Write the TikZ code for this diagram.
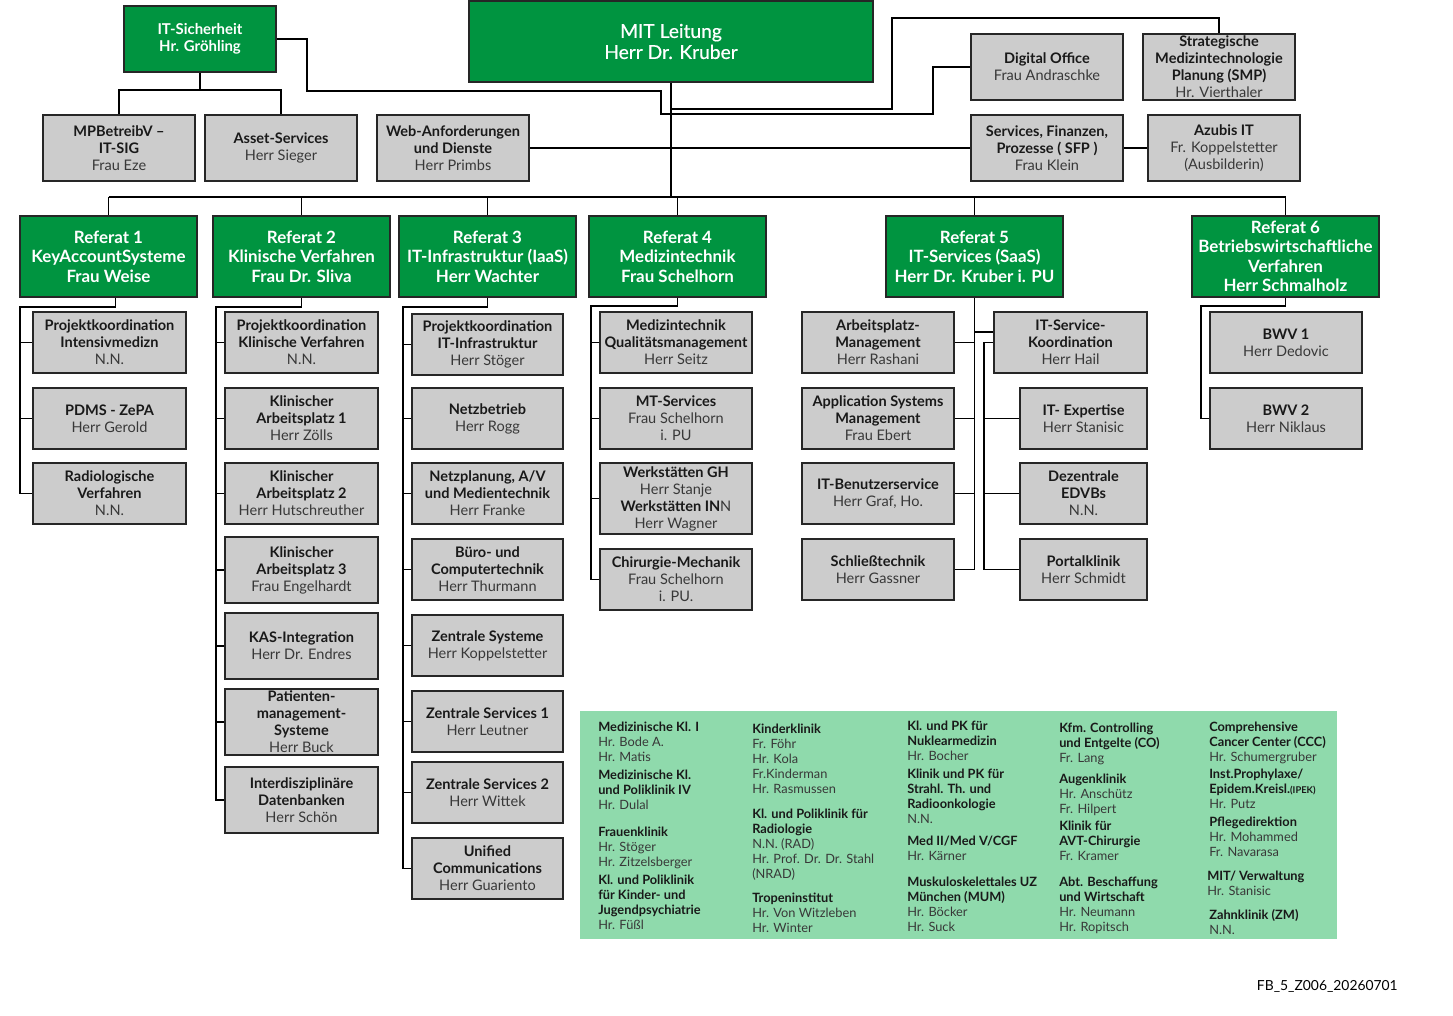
\documentclass[tikz,border=0pt]{standalone}
\usepackage{fontspec}
\setmainfont{Lato}
\newfontfamily\latomed[FakeBold=0.5]{Lato}
\definecolor{mitgreen}{RGB}{0,148,64}
\definecolor{boxgray}{RGB}{204,204,204}
\definecolor{leggreen}{RGB}{143,218,172}
\newcommand\pname[1]{{\mdseries\color{black!78}#1}}
\newcommand\lfb{\bfseries\color{black!90}}
\newcommand\lfr{\mdseries\color{black!78}}
\newcommand\boxat[7]{%
  \pgfmathsetmacro\bxw{(#5-#3)*0.75}%
  \pgfmathsetmacro\bxh{(#6-#4)*0.75}%
  \node[#2, minimum width=\bxw pt, minimum height=\bxh pt] (#1) at ({(#3+#5)/2},{(#4+#6)/2}) {#7};}
\tikzset{
  gbox/.style={draw=black!85, line width=1.3pt, fill=mitgreen, text=white, align=center, inner sep=0pt, font=\fontsize{12.7}{14.6}\selectfont\bfseries},
  sbox/.style={draw=black!85, line width=1.3pt, fill=boxgray, text=black!90, align=center, inner sep=0pt, font=\fontsize{10.9}{12.75}\selectfont\bfseries},
  mitbox/.style={gbox, font=\fontsize{14.4}{15.75}\selectfont\latomed},
  itsbox/.style={gbox, font=\fontsize{11.2}{12.75}\selectfont\bfseries},
  legbg/.style={fill=leggreen, draw=none, inner sep=0pt},
  legtext/.style={anchor=base west, inner sep=0pt, font=\fontsize{9.6}{11}\selectfont},
  conn/.style={draw=black, line width=1.2pt},
}
\begin{document}
\begin{tikzpicture}[x=0.75pt, y=-0.75pt]
\useasboundingbox (0,0) rectangle (1453,1015);
% top level
\boxat{its}{itsbox}{124}{6}{276}{72}{IT-Sicherheit\\Hr. Gröhling}
\boxat{mit}{mitbox}{469}{1}{873}{82}{MIT Leitung\\Herr Dr. Kruber}
\boxat{dig}{sbox}{971}{34}{1123}{100}{Digital Office\\\pname{Frau Andraschke}}
\boxat{smp}{sbox}{1143}{34}{1295}{100}{Strategische\\Medizintechnologie\\Planung (SMP)\\\pname{Hr. Vierthaler}}
\boxat{mpb}{sbox}{43}{115}{195}{181}{MPBetreibV --\\IT-SIG\\\pname{Frau Eze}}
\boxat{asset}{sbox}{205}{115}{357}{181}{Asset-Services\\\pname{Herr Sieger}}
\boxat{web}{sbox}{377}{115}{529}{181}{Web-Anforderungen\\und Dienste\\\pname{Herr Primbs}}
\boxat{sfp}{sbox}{971}{115}{1123}{181}{Services, Finanzen,\\Prozesse ( SFP )\\\pname{Frau Klein}}
\boxat{azubi}{sbox}{1148}{115}{1300}{181}{Azubis IT\\\pname{Fr. Koppelstetter}\\\pname{(Ausbilderin)}}
% Referate
\boxat{r1}{gbox}{20}{216}{197}{297}{Referat 1\\KeyAccountSysteme\\Frau Weise}
\boxat{r2}{gbox}{213}{216}{390}{297}{Referat 2\\Klinische Verfahren\\Frau Dr. Sliva}
\boxat{r3}{gbox}{399}{216}{576}{297}{Referat 3\\IT-Infrastruktur (IaaS)\\Herr Wachter}
\boxat{r4}{gbox}{589}{216}{766}{297}{Referat 4\\Medizintechnik\\Frau Schelhorn}
\boxat{r5}{gbox}{886}{216}{1063}{297}{Referat 5\\IT-Services (SaaS)\\Herr Dr. Kruber i. PU}
\boxat{r6}{gbox}{1192}{216}{1379}{297}{Referat 6\\Betriebswirtschaftliche\\Verfahren\\Herr Schmalholz}
% Referat 1
\boxat{r1a}{sbox}{33}{312}{186}{373}{Projektkoordination\\Intensivmedizn\\\pname{N.N.}}
\boxat{r1b}{sbox}{33}{388}{186}{449}{PDMS - ZePA\\\pname{Herr Gerold}}
\boxat{r1c}{sbox}{33}{463}{186}{524}{Radiologische\\Verfahren\\\pname{N.N.}}
% Referat 2
\boxat{r2a}{sbox}{225}{312}{378}{373}{Projektkoordination\\Klinische Verfahren\\\pname{N.N.}}
\boxat{r2b}{sbox}{225}{388}{378}{449}{Klinischer\\Arbeitsplatz 1\\\pname{Herr Zölls}}
\boxat{r2c}{sbox}{225}{463}{378}{524}{Klinischer\\Arbeitsplatz 2\\\pname{Herr Hutschreuther}}
\boxat{r2d}{sbox}{225}{537}{378}{603}{Klinischer\\Arbeitsplatz 3\\\pname{Frau Engelhardt}}
\boxat{r2e}{sbox}{225}{613}{378}{679}{KAS-Integration\\\pname{Herr Dr. Endres}}
\boxat{r2f}{sbox}{225}{689}{378}{755}{Patienten-\\management-\\Systeme\\\pname{Herr Buck}}
\boxat{r2g}{sbox}{225}{767}{378}{833}{Interdisziplinäre\\Datenbanken\\\pname{Herr Schön}}
% Referat 3
\boxat{r3a}{sbox}{412}{314}{563}{375}{Projektkoordination\\IT-Infrastruktur\\\pname{Herr Stöger}}
\boxat{r3b}{sbox}{412}{388}{563}{449}{Netzbetrieb\\\pname{Herr Rogg}}
\boxat{r3c}{sbox}{412}{463}{563}{524}{Netzplanung, A/V\\und Medientechnik\\\pname{Herr Franke}}
\boxat{r3d}{sbox}{412}{539}{563}{600}{Büro- und\\Computertechnik\\\pname{Herr Thurmann}}
\boxat{r3e}{sbox}{412}{615}{563}{676}{Zentrale Systeme\\\pname{Herr Koppelstetter}}
\boxat{r3f}{sbox}{412}{691}{563}{752}{Zentrale Services 1\\\pname{Herr Leutner}}
\boxat{r3g}{sbox}{412}{762}{563}{823}{Zentrale Services 2\\\pname{Herr Wittek}}
\boxat{r3h}{sbox}{412}{838}{563}{899}{Unified\\Communications\\\pname{Herr Guariento}}
% Referat 4
\boxat{r4a}{sbox}{600}{312}{752}{373}{Medizintechnik\\Qualitätsmanagement\\\pname{Herr Seitz}}
\boxat{r4b}{sbox}{600}{388}{752}{449}{MT-Services\\\pname{Frau Schelhorn}\\\pname{i. PU}}
\boxat{r4c}{sbox}{600}{463}{752}{534}{Werkstätten GH\\\pname{Herr Stanje}\\Werkstätten IN\pname{N}\\\pname{Herr Wagner}}
\boxat{r4d}{sbox}{600}{549}{752}{610}{Chirurgie-Mechanik\\\pname{Frau Schelhorn}\\\pname{i. PU.}}
% Referat 5
\boxat{r5a}{sbox}{802}{312}{954}{373}{Arbeitsplatz-\\Management\\\pname{Herr Rashani}}
\boxat{r5b}{sbox}{802}{388}{954}{449}{Application Systems\\Management\\\pname{Frau Ebert}}
\boxat{r5c}{sbox}{802}{463}{954}{524}{IT-Benutzerservice\\\pname{Herr Graf, Ho.}}
\boxat{r5d}{sbox}{802}{539}{954}{600}{Schließtechnik\\\pname{Herr Gassner}}
\boxat{r5e}{sbox}{994}{312}{1147}{373}{IT-Service-\\Koordination\\\pname{Herr Hail}}
\boxat{r5f}{sbox}{1020}{388}{1147}{449}{IT- Expertise\\\pname{Herr Stanisic}}
\boxat{r5g}{sbox}{1020}{463}{1147}{524}{Dezentrale\\EDVBs\\\pname{N.N.}}
\boxat{r5h}{sbox}{1020}{539}{1147}{600}{Portalklinik\\\pname{Herr Schmidt}}
% Referat 6
\boxat{r6a}{sbox}{1210}{312}{1362}{373}{BWV 1\\\pname{Herr Dedovic}}
\boxat{r6b}{sbox}{1210}{388}{1362}{449}{BWV 2\\\pname{Herr Niklaus}}
% connectors top
\coordinate (itsj) at (200,90);
\draw[conn] (its.south) -- (itsj);
\draw[conn] (mpb.north) |- (itsj) -| (asset.north);
\draw[conn] (its.east) -| (307,91) -| (661,114) -| (933,67) -- (dig.west);
\coordinate (mj) at (671,109);
\coordinate (bus) at (671,197);
\draw[conn] (mit.south) -- (bus);
\draw[conn] (mj) -| (892,18) -| (smp.north);
\draw[conn] (web.east) -- (sfp.west);
\draw[conn] (sfp.east) -- (azubi.west);
\draw[conn] (r1.north |- bus) -- (r6.north |- bus);
\foreach \r in {r1,r2,r3,r4,r5,r6} \draw[conn] (\r.north) -- (\r.north |- bus);
% Referat 1 tree
\coordinate (s1) at (20,307);
\draw[conn] ([xshift=5.25pt]r1.south) |- (s1) |- (r1c.west);
\foreach \b in {r1a,r1b} \draw[conn] (\b.west) -- (\b.west -| s1);
% Referat 2 tree
\coordinate (s2) at (216,307);
\draw[conn] (r2.south) |- (s2) |- (r2g.west);
\foreach \b in {r2a,r2b,r2c,r2d,r2e,r2f} \draw[conn] (\b.west) -- (\b.west -| s2);
% Referat 3 tree
\coordinate (s3) at (403,307);
\draw[conn] (r3.south) |- (s3) |- (r3h.west);
\foreach \b in {r3a,r3b,r3c,r3d,r3e,r3f,r3g} \draw[conn] (\b.west) -- (\b.west -| s3);
% Referat 4 tree
\coordinate (s4) at (591,306);
\draw[conn] (r4.south) |- (s4) |- (r4d.west);
\foreach \b in {r4a,r4b,r4c} \draw[conn] (\b.west) -- (\b.west -| s4);
% Referat 5 tree
\draw[conn] (r5.south) |- (r5d.east);
\foreach \b in {r5a,r5b,r5c} \draw[conn] (\b.east) -- (\b.east -| r5.south);
\draw[conn] (r5.south |- 0,332) -- (r5e.west |- 0,332);
\coordinate (s5) at (984,342);
\draw[conn] (r5e.west) -- (r5e.west -| s5) |- (r5h.west);
\foreach \b in {r5f,r5g} \draw[conn] (\b.west) -- (\b.west -| s5);
% Referat 6 tree
\coordinate (s6) at (1201,306);
\draw[conn] (r6.south) |- (s6) |- (r6b.west);
% legend
\boxat{legend}{legbg}{580}{711}{1337}{939}{}
\foreach \legx/\legy/\legs/\legt in {
598/727/b/{Medizinische Kl. I}, 598/742/r/{Hr. Bode A.}, 598/757/r/{Hr. Matis},
598/775/b/{Medizinische Kl.}, 598/790/b/{und Poliklinik IV}, 598/805/r/{Hr. Dulal},
598/832/b/{Frauenklinik}, 598/847/r/{Hr. Stöger}, 598/862/r/{Hr. Zitzelsberger},
598/880/b/{Kl. und Poliklinik}, 598/895/b/{für Kinder- und}, 598/910/b/{Jugendpsychiatrie}, 598/925/r/{Hr. Füßl},
752/729/b/{Kinderklinik}, 752/744/r/{Fr. Föhr}, 752/759/r/{Hr. Kola}, 752/774/r/{Fr.Kinderman}, 752/789/r/{Hr. Rasmussen},
752/814/b/{Kl. und Poliklinik für}, 752/829/b/{Radiologie}, 752/844/r/{N.N. (RAD)}, 752/859/r/{Hr. Prof. Dr. Dr. Stahl}, 752/874/r/{(NRAD)},
752/898/b/{Tropeninstitut}, 752/913/r/{Hr. Von Witzleben}, 752/928/r/{Hr. Winter},
907/726/b/{Kl. und PK für}, 907/741/b/{Nuklearmedizin}, 907/756/r/{Hr. Bocher},
907/774/b/{Klinik und PK für}, 907/789/b/{Strahl. Th. und}, 907/804/b/{Radioonkologie}, 907/819/r/{N.N.},
907/841/b/{Med II/Med V/CGF}, 907/856/r/{Hr. Kärner},
907/882/b/{Muskuloskelettales UZ}, 907/897/b/{München (MUM)}, 907/912/r/{Hr. Böcker}, 907/927/r/{Hr. Suck},
1059/728/b/{Kfm. Controlling}, 1059/743/b/{und Entgelte (CO)}, 1059/758/r/{Fr. Lang},
1059/779/b/{Augenklinik}, 1059/794/r/{Hr. Anschütz}, 1059/809/r/{Fr. Hilpert},
1059/826/b/{Klinik für}, 1059/841/b/{AVT-Chirurgie}, 1059/856/r/{Fr. Kramer},
1059/882/b/{Abt. Beschaffung}, 1059/897/b/{und Wirtschaft}, 1059/912/r/{Hr. Neumann}, 1059/927/r/{Hr. Ropitsch},
1209/727/b/{Comprehensive}, 1209/742/b/{Cancer Center (CCC)}, 1209/757/r/{Hr. Schumergruber},
1209/774/b/{Inst.Prophylaxe/}, 1209/789/b/{Epidem.Kreisl.{\fontsize{7}{7}\selectfont(IPEK)}}, 1209/804/r/{Hr. Putz},
1209/822/b/{Pflegedirektion}, 1209/837/r/{Hr. Mohammed}, 1209/852/r/{Fr. Navarasa},
1207/876/b/{MIT/ Verwaltung}, 1207/891/r/{Hr. Stanisic},
1209/915/b/{Zahnklinik (ZM)}, 1209/930/r/{N.N.}}
  \node[legtext] (leg-\legx-\legy) at (\legx,\legy+4) {\csname lf\legs\endcsname\legt};
\node[anchor=base east, inner sep=0pt, font=\fontsize{10.4}{12}\selectfont] (footer) at (1398,990) {FB\_5\_Z006\_20260701};
\end{tikzpicture}
\end{document}
